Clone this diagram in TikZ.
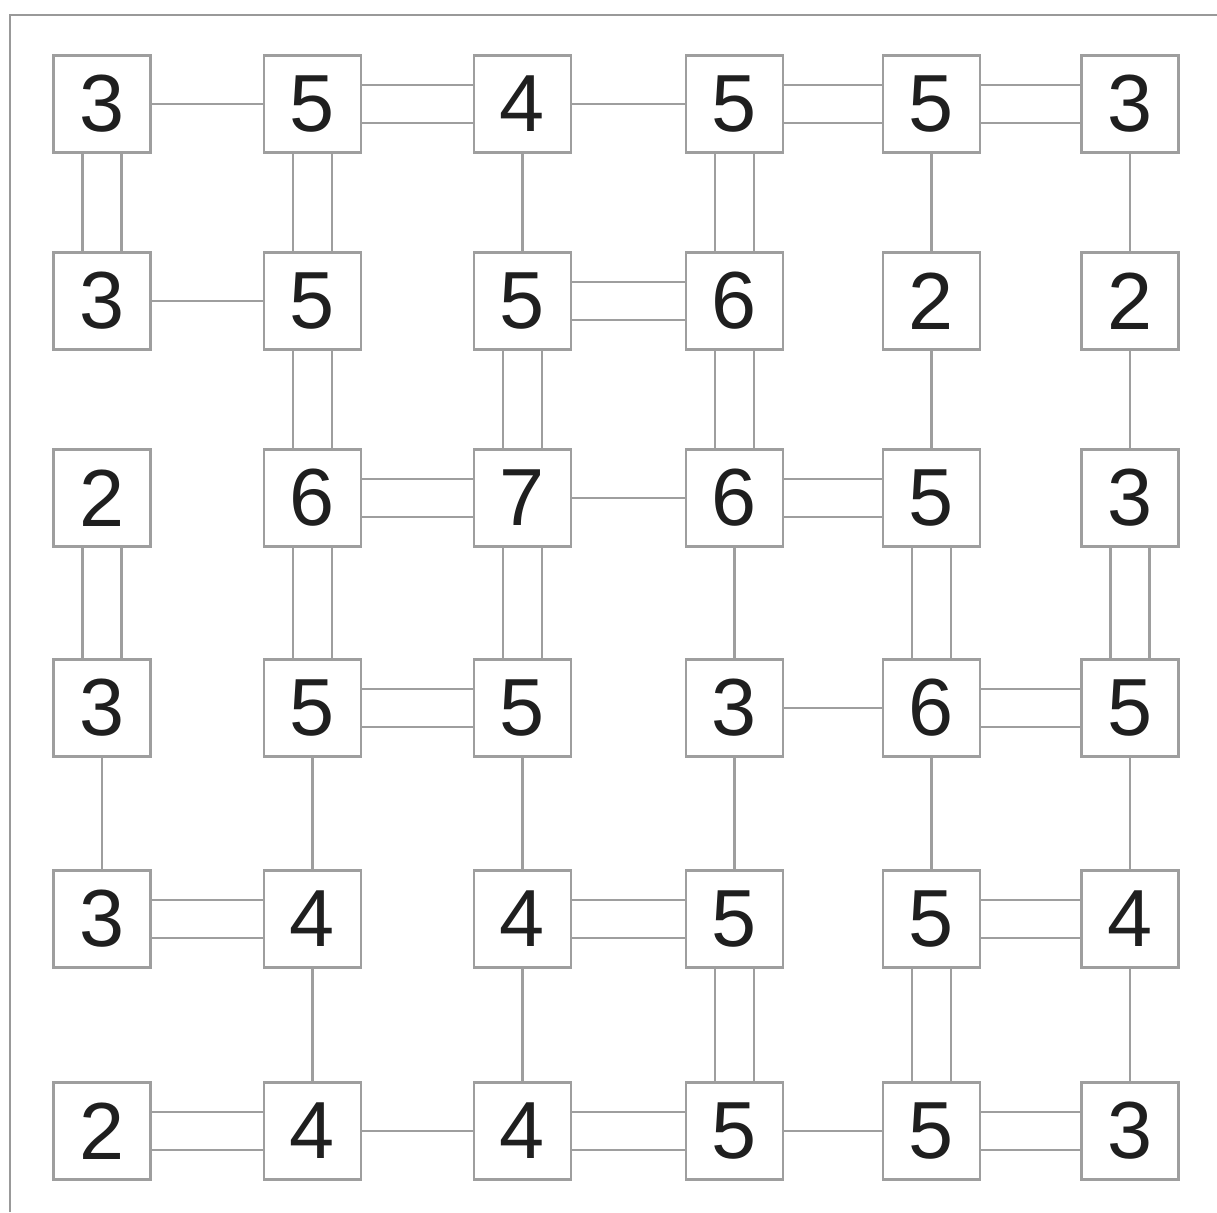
\documentclass[tikz,border=0pt]{standalone}
\usepackage{fontspec}
\setmainfont{Liberation Sans}
\begin{document}
\begin{tikzpicture}[x=1pt,y=-1pt,
  isle/.style={draw=black!38,line width=2.6pt,fill=white,minimum size=97pt,inner sep=0pt,
    font=\fontsize{81}{81}\selectfont,text=black!88},
  br/.style={draw=black!38,line width=2.6pt},
  frame/.style={draw=black!40,line width=2.2pt}]
\useasboundingbox (0,0) rectangle (1217,1212);
\fill[white] (0,0) rectangle (1217,1212);
\draw[frame] (10,1212) -- (10,15) -- (1217,15);
% islands: row, col, value
\foreach \r/\yy in {1/104,2/301,3/498,4/708,5/919,6/1131}{
  \foreach \c/\xx in {1/102,2/312.5,3/522.5,4/734.5,5/931.5,6/1130}{
    \coordinate (p\r\c) at (\xx,\yy);
  }
}
\foreach \r/\c/\v in {1/1/3,1/2/5,1/3/4,1/4/5,1/5/5,1/6/3,
  2/1/3,2/2/5,2/3/5,2/4/6,2/5/2,2/6/2,
  3/1/2,3/2/6,3/3/7,3/4/6,3/5/5,3/6/3,
  4/1/3,4/2/5,4/3/5,4/4/3,4/5/6,4/6/5,
  5/1/3,5/2/4,5/3/4,5/4/5,5/5/5,5/6/4,
  6/1/2,6/2/4,6/3/4,6/4/5,6/5/5,6/6/3}{
  \node[isle] (n\r\c) at (p\r\c) {\v};
}
% horizontal bridges: row, from col, to col, count
\foreach \a/\b/\n in {11/12/1,12/13/2,13/14/1,14/15/2,15/16/2,
  21/22/1,23/24/2,
  32/33/2,33/34/1,34/35/2,
  42/43/2,44/45/1,45/46/2,
  51/52/2,53/54/2,55/56/2,
  61/62/2,62/63/1,63/64/2,64/65/1,65/66/2}{
  \ifnum\n=1
    \draw[br] (n\a.east) -- (n\b.west);
  \else
    \draw[br] ([yshift=-19pt]n\a.east) -- ([yshift=-19pt]n\b.west);
    \draw[br] ([yshift=19pt]n\a.east) -- ([yshift=19pt]n\b.west);
  \fi
}
% vertical bridges
\foreach \a/\b/\n in {11/21/2,31/41/2,41/51/1,
  12/22/2,22/32/2,32/42/2,42/52/1,52/62/1,
  13/23/1,23/33/2,33/43/2,43/53/1,53/63/1,
  14/24/2,24/34/2,34/44/1,44/54/1,54/64/2,
  15/25/1,25/35/1,35/45/2,45/55/1,55/65/2,
  16/26/1,26/36/1,36/46/2,46/56/1,56/66/1}{
  \ifnum\n=1
    \draw[br] (n\a.south) -- (n\b.north);
  \else
    \draw[br] ([xshift=-19.5pt]n\a.south) -- ([xshift=-19.5pt]n\b.north);
    \draw[br] ([xshift=19.5pt]n\a.south) -- ([xshift=19.5pt]n\b.north);
  \fi
}
\end{tikzpicture}
\end{document}
